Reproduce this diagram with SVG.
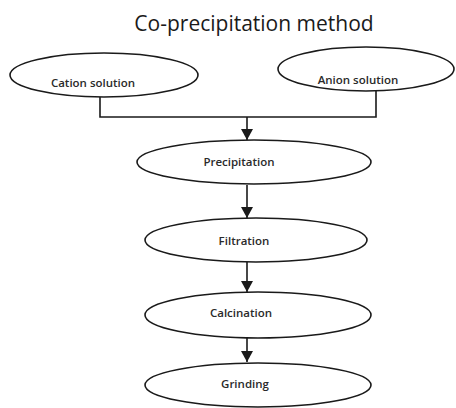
<svg xmlns="http://www.w3.org/2000/svg" width="456" height="408" viewBox="0 0 456 408">
<defs>
<style>
.n{fill:#fff;stroke:#1a1a1a;stroke-width:1.6}
.t{font-family:"Open Sans","Liberation Sans",sans-serif;font-size:11.5px;font-weight:600;fill:#2a2a2a;text-anchor:middle}
.c{fill:none;stroke:#1a1a1a;stroke-width:1.6}
</style>
<marker id="ah" markerWidth="11" markerHeight="12" refX="11" refY="6" orient="auto" markerUnits="userSpaceOnUse">
<path d="M0,0 L11,6 L0,12 Z" fill="#1a1a1a"/>
</marker>
</defs>
<rect width="456" height="408" fill="#fff"/>
<text x="254" y="31" font-family="'Open Sans','Liberation Sans',sans-serif" font-size="21" fill="#1a1a1a" text-anchor="middle">Co-precipitation method</text>
<g id="connectors">
<path class="c" d="M100,97 V117 H376 V91"/>
<path class="c" d="M247,117 V140" marker-end="url(#ah)"/>
<path class="c" d="M247,185 V218" marker-end="url(#ah)"/>
<path class="c" d="M247,262 V292" marker-end="url(#ah)"/>
<path class="c" d="M247,338 V362" marker-end="url(#ah)"/>
</g>
<g id="cation">
<ellipse class="n" cx="104" cy="75" rx="94" ry="22"/>
<text class="t" x="93" y="87">Cation solution</text>
</g>
<g id="anion">
<ellipse class="n" cx="366" cy="69" rx="88" ry="22"/>
<text class="t" x="358" y="84">Anion solution</text>
</g>
<g id="precipitation">
<ellipse class="n" cx="254" cy="162" rx="117" ry="22"/>
<text class="t" x="239" y="166">Precipitation</text>
</g>
<g id="filtration">
<ellipse class="n" cx="256" cy="240" rx="111" ry="22"/>
<text class="t" x="244" y="245">Filtration</text>
</g>
<g id="calcination">
<ellipse class="n" cx="258" cy="315" rx="113" ry="23"/>
<text class="t" x="241" y="317">Calcination</text>
</g>
<g id="grinding">
<ellipse class="n" cx="258" cy="385" rx="113" ry="22"/>
<text class="t" x="245" y="388">Grinding</text>
</g>
</svg>
